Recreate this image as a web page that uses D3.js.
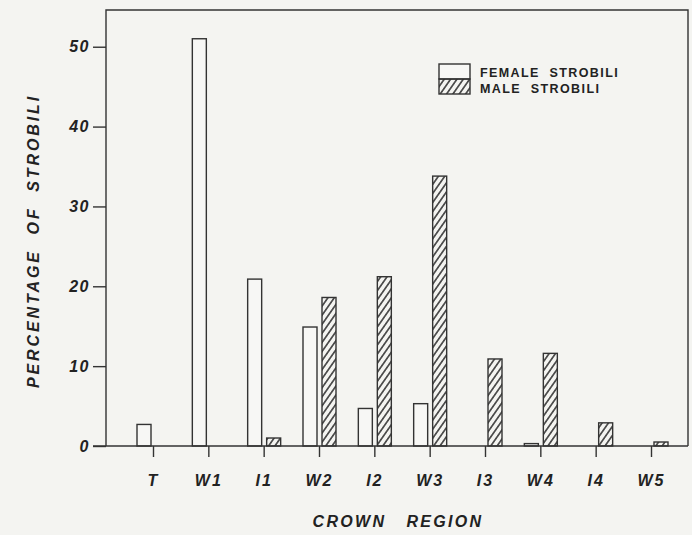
<!DOCTYPE html>
<html>
<head>
<meta charset="utf-8">
<script src="https://cdn.jsdelivr.net/npm/d3@7"></script>
<style>
  body { margin: 0; background: #f4f4f1; }
  svg { display: block; }
  .axis text { font-family: "Liberation Sans", Arial, sans-serif; font-weight: bold; font-style: italic; fill: #222; }
  .axis line, .axis path { stroke: #333; stroke-width: 1.4; }
</style>
</head>
<body>
<div id="chart"></div>
<script>
const regions = ["T", "W1", "I1", "W2", "I2", "W3", "I3", "W4", "I4", "W5"];
const female = [2.7, 51.0, 20.9, 14.9, 4.7, 5.3, 0, 0.3, 0, 0];
const male = [0, 0, 1.0, 18.6, 21.2, 33.8, 10.9, 11.6, 2.9, 0.5];
const yTicks = [0, 10, 20, 30, 40, 50];
const seriesLabels = ["FEMALE  STROBILI", "MALE  STROBILI"];

const W = 692, H = 535;
const frame = {left: 106, right: 688, top: 10, bottom: 446};
const ink = "#333";

const svg = d3.select("#chart").append("svg")
  .attr("width", W)
  .attr("height", H);

// diagonal hatching for the male bars
svg.append("defs").append("pattern")
  .attr("id", "hatch")
  .attr("patternUnits", "userSpaceOnUse")
  .attr("width", 10)
  .attr("height", 5.2)
  .attr("patternTransform", "rotate(-55)")
  .append("line")
  .attr("x1", 0).attr("x2", 10)
  .attr("y1", 2.6).attr("y2", 2.6)
  .style("stroke", ink)
  .style("stroke-width", 1.5);

const y = d3.scaleLinear()
  .domain([0, 54.6])
  .range([frame.bottom, frame.top]);

const x = d3.scalePoint()
  .domain(regions)
  .range([153, 651]);

// frame
svg.append("path")
  .attr("d", `M${frame.left},${frame.bottom} V${frame.top} H${frame.right} V${frame.bottom}`)
  .style("fill", "none")
  .style("stroke", ink)
  .style("stroke-width", 1.4);

const yAxis = d3.axisLeft(y)
  .tickValues(yTicks)
  .tickSize(13)
  .tickPadding(3);

svg.append("g")
  .attr("class", "axis y")
  .attr("transform", "translate(" + frame.left + ",0)")
  .call(yAxis)
  .call(g => g.select(".domain").remove())
  .selectAll("text")
  .style("font-size", "16px")
  .style("letter-spacing", "1.5px");

const xAxis = d3.axisBottom(x)
  .tickSize(11)
  .tickPadding(18);

svg.append("g")
  .attr("class", "axis x")
  .attr("transform", "translate(0," + frame.bottom + ")")
  .call(xAxis)
  .call(g => g.select(".domain").remove())
  .selectAll("text")
  .style("font-size", "16px")
  .style("letter-spacing", "2px");

// bars
const barW = 14;
const bars = svg.append("g").attr("class", "bars");

bars.selectAll("rect.female")
  .data(regions)
  .enter().append("rect")
  .attr("class", "female")
  .attr("x", d => x(d) - 2 - barW)
  .attr("y", (d, i) => y(female[i]))
  .attr("width", barW)
  .attr("height", (d, i) => y(0) - y(female[i]))
  .style("fill", "#f7f7f5")
  .style("stroke", ink)
  .style("stroke-width", 1.4);

bars.selectAll("rect.male")
  .data(regions)
  .enter().append("rect")
  .attr("class", "male")
  .attr("x", d => x(d) + 3)
  .attr("y", (d, i) => y(male[i]))
  .attr("width", barW)
  .attr("height", (d, i) => y(0) - y(male[i]))
  .style("fill", "url(#hatch)")
  .style("stroke", ink)
  .style("stroke-width", 1.4);

// x axis baseline, runs a little past the frame on the left
svg.append("line")
  .attr("x1", 93)
  .attr("x2", frame.right)
  .attr("y1", frame.bottom)
  .attr("y2", frame.bottom)
  .style("stroke", ink)
  .style("stroke-width", 1.4);

// legend
const legend = svg.append("g")
  .attr("transform", "translate(439,64)");

legend.selectAll("rect")
  .data(seriesLabels)
  .enter().append("rect")
  .attr("x", 0)
  .attr("y", (d, i) => i * 15)
  .attr("width", 31)
  .attr("height", 15)
  .style("fill", (d, i) => i === 0 ? "#f7f7f5" : "url(#hatch)")
  .style("stroke", ink)
  .style("stroke-width", 1.4);

legend.selectAll("text")
  .data(seriesLabels)
  .enter().append("text")
  .attr("x", 41)
  .attr("y", (d, i) => 13 + i * 16)
  .style("font-family", "'Liberation Sans', Arial, sans-serif")
  .style("font-weight", "bold")
  .style("font-size", "12.5px")
  .style("letter-spacing", "1.4px")
  .style("white-space", "pre")
  .style("fill", "#222")
  .text(d => d);

// axis titles
svg.append("text")
  .attr("transform", "translate(39,241) rotate(-90)")
  .attr("text-anchor", "middle")
  .style("font-family", "'Liberation Sans', Arial, sans-serif")
  .style("font-weight", "bold")
  .style("font-style", "italic")
  .style("font-size", "16px")
  .style("letter-spacing", "2.9px")
  .style("white-space", "pre")
  .style("fill", "#222")
  .text("PERCENTAGE  OF  STROBILI");

svg.append("text")
  .attr("x", 398)
  .attr("y", 527)
  .attr("text-anchor", "middle")
  .style("font-family", "'Liberation Sans', Arial, sans-serif")
  .style("font-weight", "bold")
  .style("font-style", "italic")
  .style("font-size", "16px")
  .style("letter-spacing", "2.3px")
  .style("white-space", "pre")
  .style("fill", "#222")
  .text("CROWN   REGION");
</script>
</body>
</html>
